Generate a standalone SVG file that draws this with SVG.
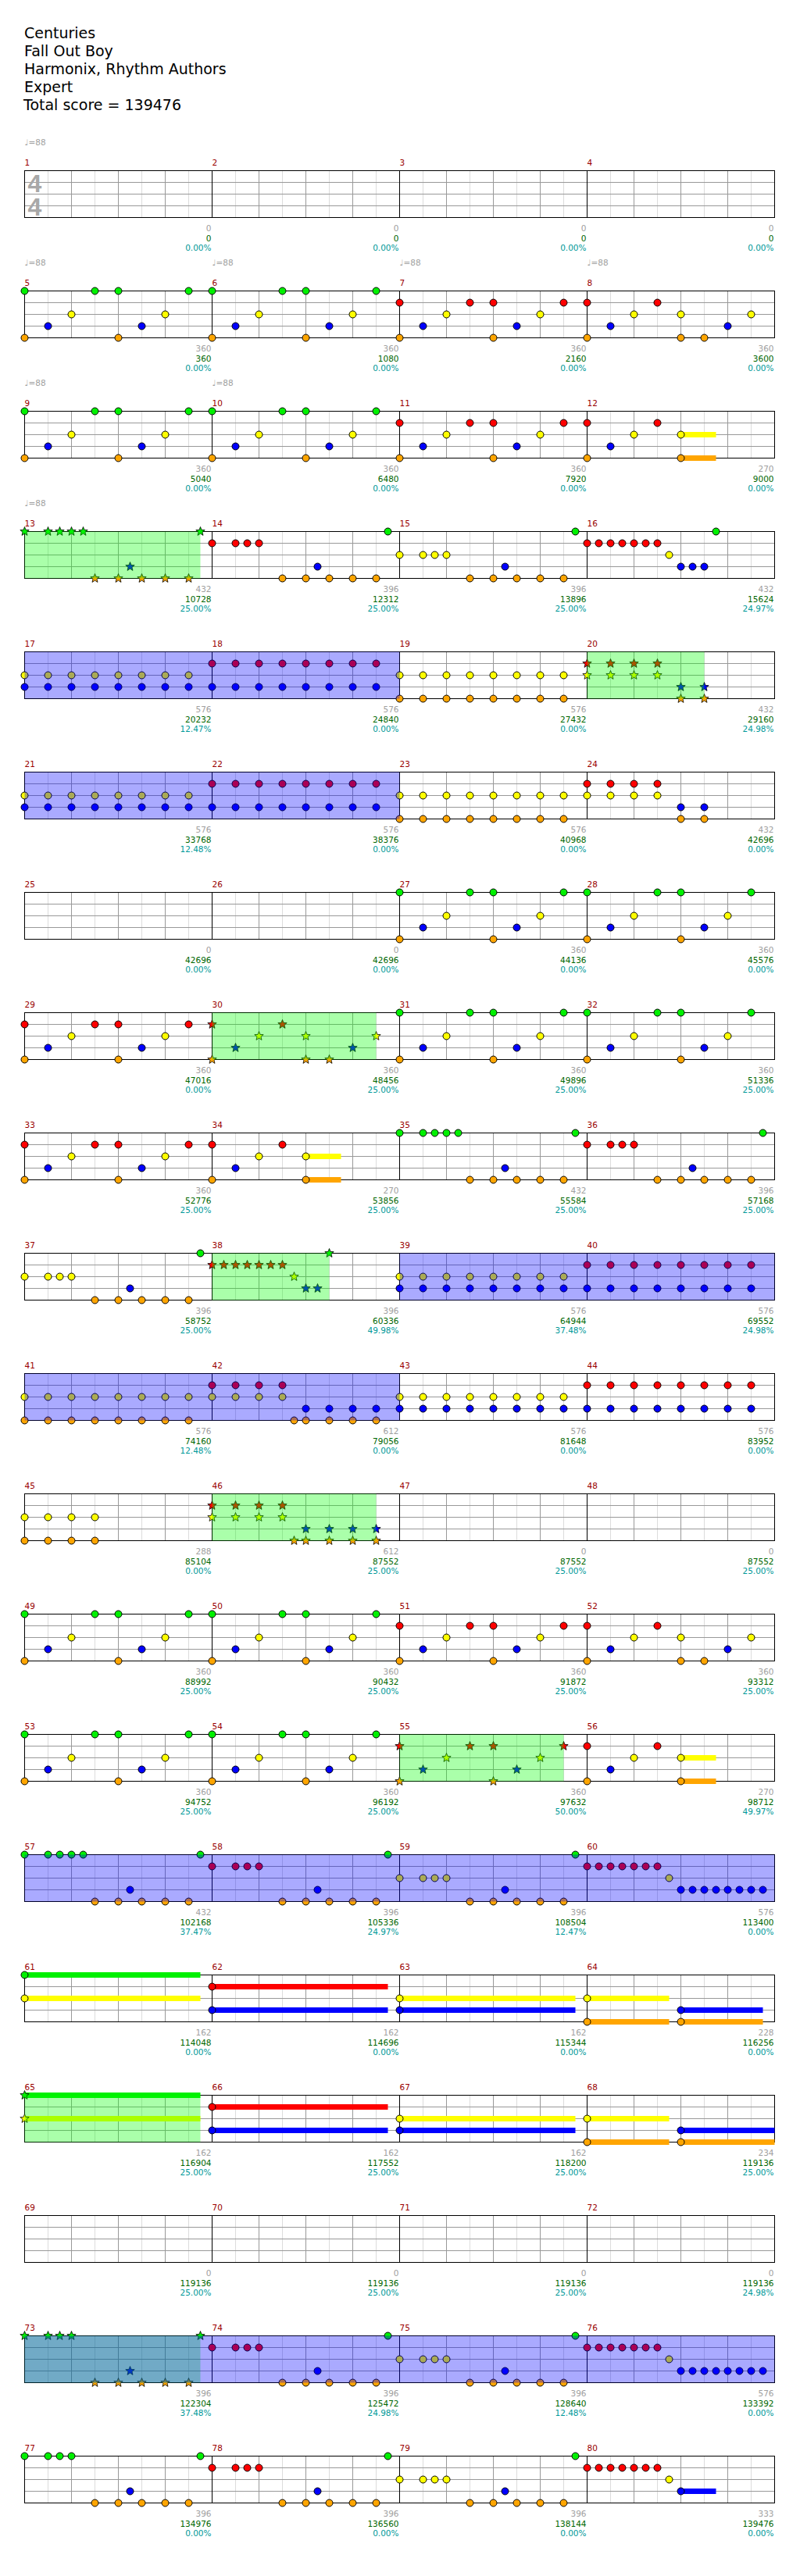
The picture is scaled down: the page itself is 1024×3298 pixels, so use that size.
<svg xmlns="http://www.w3.org/2000/svg" xmlns:xlink="http://www.w3.org/1999/xlink" width="1024" height="3298" viewBox="0 0 1024 3298">
<style>
.t{font-family:"DejaVu Sans",sans-serif;font-size:19px;fill:#000}
.mn,.tp,.s1,.s2,.s3{font-family:"DejaVu Sans",sans-serif;font-size:10.5px}
.mn{fill:#990000}.tp{fill:#a0a0a0}
.s1,.s2,.s3{text-anchor:end}.s1{fill:#a0a0a0}.s2{fill:#006600}.s3{fill:#009999}
.ts{font-family:"Liberation Sans",Arial,sans-serif;font-weight:bold;font-size:32px;fill:#a8a8a8;text-anchor:middle}
.l1{stroke:#dcdcdc;fill:none}.l2{stroke:#999;fill:none}.l3{stroke:#000;fill:none}.bd{fill:none;stroke:#000}
circle{stroke:#000;stroke-width:1}
.st{stroke:#000;stroke-width:.8}
.g{fill:#00f000}.r{fill:#ff0000}.y{fill:#ffff00}.b{fill:#0000ff}.o{fill:#ffa500}
.sp{fill:#00ff00;fill-opacity:.333}.od{fill:#0000ff;fill-opacity:.333}
</style>
<defs>
<g id="staff">
<path class="l1" d="M61,0V60M121,0V60M181,0V60M241,0V60M301,0V60M361,0V60M421,0V60M481,0V60M541,0V60M601,0V60M661,0V60M721,0V60M781,0V60M841,0V60M901,0V60M961,0V60"/>
<path class="l2" d="M91,0V60M151,0V60M211,0V60M331,0V60M391,0V60M451,0V60M571,0V60M631,0V60M691,0V60M811,0V60M871,0V60M931,0V60M31,15H991M31,30H991M31,45H991"/>
<path class="l3" d="M271,0V60M511,0V60M751,0V60"/>
<rect class="bd" x="31" y="0" width="960" height="60"/>
</g>
<path id="st" class="st" d="M0,-6L1.5,-2.1L5.7,-1.9L2.5,0.8L3.5,4.9L0,2.6L-3.5,4.9L-2.5,0.8L-5.7,-1.9L-1.5,-2.1Z"/>
<g id="pA"><circle cx="0" cy="0" r="4.5" class="g"/><circle cx="0" cy="60" r="4.5" class="o"/><circle cx="30" cy="45" r="4.5" class="b"/><circle cx="60" cy="30" r="4.5" class="y"/><circle cx="90" cy="0" r="4.5" class="g"/><circle cx="120" cy="0" r="4.5" class="g"/><circle cx="120" cy="60" r="4.5" class="o"/><circle cx="150" cy="45" r="4.5" class="b"/><circle cx="180" cy="30" r="4.5" class="y"/><circle cx="210" cy="0" r="4.5" class="g"/></g>
<g id="pB"><circle cx="0" cy="15" r="4.5" class="r"/><circle cx="0" cy="60" r="4.5" class="o"/><circle cx="30" cy="45" r="4.5" class="b"/><circle cx="60" cy="30" r="4.5" class="y"/><circle cx="90" cy="15" r="4.5" class="r"/><circle cx="120" cy="15" r="4.5" class="r"/><circle cx="120" cy="60" r="4.5" class="o"/><circle cx="150" cy="45" r="4.5" class="b"/><circle cx="180" cy="30" r="4.5" class="y"/><circle cx="210" cy="15" r="4.5" class="r"/></g>
<g id="pC"><circle cx="0" cy="15" r="4.5" class="r"/><circle cx="0" cy="60" r="4.5" class="o"/><circle cx="30" cy="45" r="4.5" class="b"/><circle cx="60" cy="30" r="4.5" class="y"/><circle cx="90" cy="15" r="4.5" class="r"/><circle cx="120" cy="30" r="4.5" class="y"/><circle cx="120" cy="60" r="4.5" class="o"/><circle cx="150" cy="60" r="4.5" class="o"/><circle cx="180" cy="45" r="4.5" class="b"/><circle cx="210" cy="30" r="4.5" class="y"/></g>
<g id="pC2"><rect x="120" y="26.5" width="45" height="7" class="y"/><rect x="120" y="56.5" width="45" height="7" class="o"/><circle cx="0" cy="15" r="4.5" class="r"/><circle cx="0" cy="60" r="4.5" class="o"/><circle cx="30" cy="45" r="4.5" class="b"/><circle cx="60" cy="30" r="4.5" class="y"/><circle cx="90" cy="15" r="4.5" class="r"/><circle cx="120" cy="30" r="4.5" class="y"/><circle cx="120" cy="60" r="4.5" class="o"/></g>
<g id="pD"><circle cx="0" cy="0" r="4.5" class="g"/><circle cx="30" cy="0" r="4.5" class="g"/><circle cx="45" cy="0" r="4.5" class="g"/><circle cx="60" cy="0" r="4.5" class="g"/><circle cx="75" cy="0" r="4.5" class="g"/><circle cx="90" cy="60" r="4.5" class="o"/><circle cx="120" cy="60" r="4.5" class="o"/><circle cx="135" cy="45" r="4.5" class="b"/><circle cx="150" cy="60" r="4.5" class="o"/><circle cx="180" cy="60" r="4.5" class="o"/><circle cx="210" cy="60" r="4.5" class="o"/><circle cx="225" cy="0" r="4.5" class="g"/></g>
<g id="pD4"><circle cx="0" cy="0" r="4.5" class="g"/><circle cx="30" cy="0" r="4.5" class="g"/><circle cx="45" cy="0" r="4.5" class="g"/><circle cx="60" cy="0" r="4.5" class="g"/><circle cx="90" cy="60" r="4.5" class="o"/><circle cx="120" cy="60" r="4.5" class="o"/><circle cx="135" cy="45" r="4.5" class="b"/><circle cx="150" cy="60" r="4.5" class="o"/><circle cx="180" cy="60" r="4.5" class="o"/><circle cx="210" cy="60" r="4.5" class="o"/><circle cx="225" cy="0" r="4.5" class="g"/></g>
<g id="pE"><circle cx="0" cy="15" r="4.5" class="r"/><circle cx="30" cy="15" r="4.5" class="r"/><circle cx="45" cy="15" r="4.5" class="r"/><circle cx="60" cy="15" r="4.5" class="r"/><circle cx="90" cy="60" r="4.5" class="o"/><circle cx="120" cy="60" r="4.5" class="o"/><circle cx="135" cy="45" r="4.5" class="b"/><circle cx="150" cy="60" r="4.5" class="o"/><circle cx="180" cy="60" r="4.5" class="o"/><circle cx="210" cy="60" r="4.5" class="o"/><circle cx="225" cy="0" r="4.5" class="g"/></g>
<g id="pF"><circle cx="0" cy="30" r="4.5" class="y"/><circle cx="30" cy="30" r="4.5" class="y"/><circle cx="45" cy="30" r="4.5" class="y"/><circle cx="60" cy="30" r="4.5" class="y"/><circle cx="90" cy="60" r="4.5" class="o"/><circle cx="120" cy="60" r="4.5" class="o"/><circle cx="135" cy="45" r="4.5" class="b"/><circle cx="150" cy="60" r="4.5" class="o"/><circle cx="180" cy="60" r="4.5" class="o"/><circle cx="210" cy="60" r="4.5" class="o"/><circle cx="225" cy="0" r="4.5" class="g"/></g>
<g id="pR7"><circle cx="0" cy="15" r="4.5" class="r"/><circle cx="15" cy="15" r="4.5" class="r"/><circle cx="30" cy="15" r="4.5" class="r"/><circle cx="45" cy="15" r="4.5" class="r"/><circle cx="60" cy="15" r="4.5" class="r"/><circle cx="75" cy="15" r="4.5" class="r"/><circle cx="90" cy="15" r="4.5" class="r"/><circle cx="105" cy="30" r="4.5" class="y"/></g>
<g id="pG"><use href="#pR7"/><circle cx="120" cy="45" r="4.5" class="b"/><circle cx="135" cy="45" r="4.5" class="b"/><circle cx="150" cy="45" r="4.5" class="b"/><circle cx="165" cy="0" r="4.5" class="g"/></g>
<g id="pG2"><use href="#pR7"/><circle cx="120" cy="45" r="4.5" class="b"/><circle cx="135" cy="45" r="4.5" class="b"/><circle cx="150" cy="45" r="4.5" class="b"/><circle cx="165" cy="45" r="4.5" class="b"/><circle cx="180" cy="45" r="4.5" class="b"/><circle cx="195" cy="45" r="4.5" class="b"/><circle cx="210" cy="45" r="4.5" class="b"/><circle cx="225" cy="45" r="4.5" class="b"/></g>
<g id="pG3"><rect x="120" y="41.5" width="45" height="7" class="b"/><use href="#pR7"/><circle cx="120" cy="45" r="4.5" class="b"/></g>
<g id="e8y"><circle cx="0" cy="30" r="4.5" class="y"/><circle cx="30" cy="30" r="4.5" class="y"/><circle cx="60" cy="30" r="4.5" class="y"/><circle cx="90" cy="30" r="4.5" class="y"/><circle cx="120" cy="30" r="4.5" class="y"/><circle cx="150" cy="30" r="4.5" class="y"/><circle cx="180" cy="30" r="4.5" class="y"/><circle cx="210" cy="30" r="4.5" class="y"/></g>
<g id="e8r"><circle cx="0" cy="15" r="4.5" class="r"/><circle cx="30" cy="15" r="4.5" class="r"/><circle cx="60" cy="15" r="4.5" class="r"/><circle cx="90" cy="15" r="4.5" class="r"/><circle cx="120" cy="15" r="4.5" class="r"/><circle cx="150" cy="15" r="4.5" class="r"/><circle cx="180" cy="15" r="4.5" class="r"/><circle cx="210" cy="15" r="4.5" class="r"/></g>
<g id="e8b"><circle cx="0" cy="45" r="4.5" class="b"/><circle cx="30" cy="45" r="4.5" class="b"/><circle cx="60" cy="45" r="4.5" class="b"/><circle cx="90" cy="45" r="4.5" class="b"/><circle cx="120" cy="45" r="4.5" class="b"/><circle cx="150" cy="45" r="4.5" class="b"/><circle cx="180" cy="45" r="4.5" class="b"/><circle cx="210" cy="45" r="4.5" class="b"/></g>
<g id="e8o"><circle cx="0" cy="60" r="4.5" class="o"/><circle cx="30" cy="60" r="4.5" class="o"/><circle cx="60" cy="60" r="4.5" class="o"/><circle cx="90" cy="60" r="4.5" class="o"/><circle cx="120" cy="60" r="4.5" class="o"/><circle cx="150" cy="60" r="4.5" class="o"/><circle cx="180" cy="60" r="4.5" class="o"/><circle cx="210" cy="60" r="4.5" class="o"/></g>
<g id="sB"><use href="#st" x="0" y="15" class="r"/><use href="#st" x="0" y="60" class="o"/><use href="#st" x="30" y="45" class="b"/><use href="#st" x="60" y="30" class="y"/><use href="#st" x="90" y="15" class="r"/><use href="#st" x="120" y="15" class="r"/><use href="#st" x="120" y="60" class="o"/><use href="#st" x="150" y="45" class="b"/><use href="#st" x="180" y="30" class="y"/><use href="#st" x="210" y="15" class="r"/></g>
<g id="sC"><use href="#st" x="0" y="15" class="r"/><use href="#st" x="0" y="60" class="o"/><use href="#st" x="30" y="45" class="b"/><use href="#st" x="60" y="30" class="y"/><use href="#st" x="90" y="15" class="r"/><use href="#st" x="120" y="30" class="y"/><use href="#st" x="120" y="60" class="o"/><use href="#st" x="150" y="60" class="o"/><use href="#st" x="180" y="45" class="b"/><use href="#st" x="210" y="30" class="y"/></g>
<g id="sD4"><use href="#st" x="0" y="0" class="g"/><use href="#st" x="30" y="0" class="g"/><use href="#st" x="45" y="0" class="g"/><use href="#st" x="60" y="0" class="g"/><use href="#st" x="90" y="60" class="o"/><use href="#st" x="120" y="60" class="o"/><use href="#st" x="135" y="45" class="b"/><use href="#st" x="150" y="60" class="o"/><use href="#st" x="180" y="60" class="o"/><use href="#st" x="210" y="60" class="o"/><use href="#st" x="225" y="0" class="g"/></g>
</defs>
<rect x="0" y="0" width="1024" height="3298" fill="#fff"/>
<g id="header">
<text class="t" x="31" y="49">Centuries</text>
<text class="t" x="31" y="72">Fall Out Boy</text>
<text class="t" x="31" y="95">Harmonix, Rhythm Authors</text>
<text class="t" x="31" y="118">Expert</text>
<text class="t" x="30" y="141">Total score = 139476</text>
</g>

<g id="row1" transform="translate(0.5,218.5)">
<use href="#staff"/>
<text class="ts" x="44" y="27">4</text><text class="ts" x="44" y="57">4</text>
<text class="tp" x="31" y="-33">♩=88</text>
<g id="m1"><text class="mn" x="31" y="-7">1</text><text class="s1" x="270" y="77">0</text><text class="s2" x="270" y="90">0</text><text class="s3" x="270" y="102.5">0.00%</text></g>
<g id="m2"><text class="mn" x="271" y="-7">2</text><text class="s1" x="510" y="77">0</text><text class="s2" x="510" y="90">0</text><text class="s3" x="510" y="102.5">0.00%</text></g>
<g id="m3"><text class="mn" x="511" y="-7">3</text><text class="s1" x="750" y="77">0</text><text class="s2" x="750" y="90">0</text><text class="s3" x="750" y="102.5">0.00%</text></g>
<g id="m4"><text class="mn" x="751" y="-7">4</text><text class="s1" x="990" y="77">0</text><text class="s2" x="990" y="90">0</text><text class="s3" x="990" y="102.5">0.00%</text></g>
</g>

<g id="row2" transform="translate(0.5,372.5)">
<use href="#staff"/>
<text class="tp" x="31" y="-33">♩=88</text><text class="tp" x="271" y="-33">♩=88</text><text class="tp" x="511" y="-33">♩=88</text><text class="tp" x="751" y="-33">♩=88</text>
<g id="m5"><use href="#pA" x="31"/><text class="mn" x="31" y="-7">5</text><text class="s1" x="270" y="77">360</text><text class="s2" x="270" y="90">360</text><text class="s3" x="270" y="102.5">0.00%</text></g>
<g id="m6"><use href="#pA" x="271"/><text class="mn" x="271" y="-7">6</text><text class="s1" x="510" y="77">360</text><text class="s2" x="510" y="90">1080</text><text class="s3" x="510" y="102.5">0.00%</text></g>
<g id="m7"><use href="#pB" x="511"/><text class="mn" x="511" y="-7">7</text><text class="s1" x="750" y="77">360</text><text class="s2" x="750" y="90">2160</text><text class="s3" x="750" y="102.5">0.00%</text></g>
<g id="m8"><use href="#pC" x="751"/><text class="mn" x="751" y="-7">8</text><text class="s1" x="990" y="77">360</text><text class="s2" x="990" y="90">3600</text><text class="s3" x="990" y="102.5">0.00%</text></g>
</g>

<g id="row3" transform="translate(0.5,526.5)">
<use href="#staff"/>
<text class="tp" x="31" y="-33">♩=88</text><text class="tp" x="271" y="-33">♩=88</text>
<g id="m9"><use href="#pA" x="31"/><text class="mn" x="31" y="-7">9</text><text class="s1" x="270" y="77">360</text><text class="s2" x="270" y="90">5040</text><text class="s3" x="270" y="102.5">0.00%</text></g>
<g id="m10"><use href="#pA" x="271"/><text class="mn" x="271" y="-7">10</text><text class="s1" x="510" y="77">360</text><text class="s2" x="510" y="90">6480</text><text class="s3" x="510" y="102.5">0.00%</text></g>
<g id="m11"><use href="#pB" x="511"/><text class="mn" x="511" y="-7">11</text><text class="s1" x="750" y="77">360</text><text class="s2" x="750" y="90">7920</text><text class="s3" x="750" y="102.5">0.00%</text></g>
<g id="m12"><use href="#pC2" x="751"/><text class="mn" x="751" y="-7">12</text><text class="s1" x="990" y="77">270</text><text class="s2" x="990" y="90">9000</text><text class="s3" x="990" y="102.5">0.00%</text></g>
</g>

<g id="row4" transform="translate(0.5,680.5)">
<use href="#staff"/>
<text class="tp" x="31" y="-33">♩=88</text>
<g id="m13"><use href="#sD4" x="31"/><use href="#st" x="106" y="0" class="g"/><text class="mn" x="31" y="-7">13</text><text class="s1" x="270" y="77">432</text><text class="s2" x="270" y="90">10728</text><text class="s3" x="270" y="102.5">25.00%</text></g>
<g id="m14"><use href="#pE" x="271"/><text class="mn" x="271" y="-7">14</text><text class="s1" x="510" y="77">396</text><text class="s2" x="510" y="90">12312</text><text class="s3" x="510" y="102.5">25.00%</text></g>
<g id="m15"><use href="#pF" x="511"/><text class="mn" x="511" y="-7">15</text><text class="s1" x="750" y="77">396</text><text class="s2" x="750" y="90">13896</text><text class="s3" x="750" y="102.5">25.00%</text></g>
<g id="m16"><use href="#pG" x="751"/><text class="mn" x="751" y="-7">16</text><text class="s1" x="990" y="77">432</text><text class="s2" x="990" y="90">15624</text><text class="s3" x="990" y="102.5">24.97%</text></g>
<g id="ov4"><rect class="sp" x="31" y="0" width="225" height="60"/></g>
</g>

<g id="row5" transform="translate(0.5,834.5)">
<use href="#staff"/>
<g id="m17"><use href="#e8y" x="31"/><use href="#e8b" x="31"/><text class="mn" x="31" y="-7">17</text><text class="s1" x="270" y="77">576</text><text class="s2" x="270" y="90">20232</text><text class="s3" x="270" y="102.5">12.47%</text></g>
<g id="m18"><use href="#e8r" x="271"/><use href="#e8b" x="271"/><text class="mn" x="271" y="-7">18</text><text class="s1" x="510" y="77">576</text><text class="s2" x="510" y="90">24840</text><text class="s3" x="510" y="102.5">0.00%</text></g>
<g id="m19"><use href="#e8y" x="511"/><use href="#e8o" x="511"/><text class="mn" x="511" y="-7">19</text><text class="s1" x="750" y="77">576</text><text class="s2" x="750" y="90">27432</text><text class="s3" x="750" y="102.5">0.00%</text></g>
<g id="m20"><use href="#st" x="751" y="15" class="r"/><use href="#st" x="751" y="30" class="y"/><use href="#st" x="781" y="15" class="r"/><use href="#st" x="781" y="30" class="y"/><use href="#st" x="811" y="15" class="r"/><use href="#st" x="811" y="30" class="y"/><use href="#st" x="841" y="15" class="r"/><use href="#st" x="841" y="30" class="y"/><use href="#st" x="871" y="45" class="b"/><use href="#st" x="871" y="60" class="o"/><use href="#st" x="901" y="45" class="b"/><use href="#st" x="901" y="60" class="o"/><text class="mn" x="751" y="-7">20</text><text class="s1" x="990" y="77">432</text><text class="s2" x="990" y="90">29160</text><text class="s3" x="990" y="102.5">24.98%</text></g>
<g id="ov5"><rect class="sp" x="751" y="0" width="150" height="60"/><rect class="od" x="31" y="0" width="480" height="60"/></g>
</g>

<g id="row6" transform="translate(0.5,988.5)">
<use href="#staff"/>
<g id="m21"><use href="#e8y" x="31"/><use href="#e8b" x="31"/><text class="mn" x="31" y="-7">21</text><text class="s1" x="270" y="77">576</text><text class="s2" x="270" y="90">33768</text><text class="s3" x="270" y="102.5">12.48%</text></g>
<g id="m22"><use href="#e8r" x="271"/><use href="#e8b" x="271"/><text class="mn" x="271" y="-7">22</text><text class="s1" x="510" y="77">576</text><text class="s2" x="510" y="90">38376</text><text class="s3" x="510" y="102.5">0.00%</text></g>
<g id="m23"><use href="#e8y" x="511"/><use href="#e8o" x="511"/><text class="mn" x="511" y="-7">23</text><text class="s1" x="750" y="77">576</text><text class="s2" x="750" y="90">40968</text><text class="s3" x="750" y="102.5">0.00%</text></g>
<g id="m24"><circle cx="751" cy="15" r="4.5" class="r"/><circle cx="751" cy="30" r="4.5" class="y"/><circle cx="781" cy="15" r="4.5" class="r"/><circle cx="781" cy="30" r="4.5" class="y"/><circle cx="811" cy="15" r="4.5" class="r"/><circle cx="811" cy="30" r="4.5" class="y"/><circle cx="841" cy="15" r="4.5" class="r"/><circle cx="841" cy="30" r="4.5" class="y"/><circle cx="871" cy="45" r="4.5" class="b"/><circle cx="871" cy="60" r="4.5" class="o"/><circle cx="901" cy="45" r="4.5" class="b"/><circle cx="901" cy="60" r="4.5" class="o"/><text class="mn" x="751" y="-7">24</text><text class="s1" x="990" y="77">432</text><text class="s2" x="990" y="90">42696</text><text class="s3" x="990" y="102.5">0.00%</text></g>
<g id="ov6"><rect class="od" x="31" y="0" width="480" height="60"/></g>
</g>

<g id="row7" transform="translate(0.5,1142.5)">
<use href="#staff"/>
<g id="m25"><text class="mn" x="31" y="-7">25</text><text class="s1" x="270" y="77">0</text><text class="s2" x="270" y="90">42696</text><text class="s3" x="270" y="102.5">0.00%</text></g>
<g id="m26"><text class="mn" x="271" y="-7">26</text><text class="s1" x="510" y="77">0</text><text class="s2" x="510" y="90">42696</text><text class="s3" x="510" y="102.5">0.00%</text></g>
<g id="m27"><use href="#pA" x="511"/><text class="mn" x="511" y="-7">27</text><text class="s1" x="750" y="77">360</text><text class="s2" x="750" y="90">44136</text><text class="s3" x="750" y="102.5">0.00%</text></g>
<g id="m28"><use href="#pA" x="751"/><text class="mn" x="751" y="-7">28</text><text class="s1" x="990" y="77">360</text><text class="s2" x="990" y="90">45576</text><text class="s3" x="990" y="102.5">0.00%</text></g>
</g>

<g id="row8" transform="translate(0.5,1296.5)">
<use href="#staff"/>
<g id="m29"><use href="#pB" x="31"/><text class="mn" x="31" y="-7">29</text><text class="s1" x="270" y="77">360</text><text class="s2" x="270" y="90">47016</text><text class="s3" x="270" y="102.5">0.00%</text></g>
<g id="m30"><use href="#sC" x="271"/><text class="mn" x="271" y="-7">30</text><text class="s1" x="510" y="77">360</text><text class="s2" x="510" y="90">48456</text><text class="s3" x="510" y="102.5">25.00%</text></g>
<g id="m31"><use href="#pA" x="511"/><text class="mn" x="511" y="-7">31</text><text class="s1" x="750" y="77">360</text><text class="s2" x="750" y="90">49896</text><text class="s3" x="750" y="102.5">25.00%</text></g>
<g id="m32"><use href="#pA" x="751"/><text class="mn" x="751" y="-7">32</text><text class="s1" x="990" y="77">360</text><text class="s2" x="990" y="90">51336</text><text class="s3" x="990" y="102.5">25.00%</text></g>
<g id="ov8"><rect class="sp" x="271" y="0" width="210" height="60"/></g>
</g>

<g id="row9" transform="translate(0.5,1450.5)">
<use href="#staff"/>
<g id="m33"><use href="#pB" x="31"/><text class="mn" x="31" y="-7">33</text><text class="s1" x="270" y="77">360</text><text class="s2" x="270" y="90">52776</text><text class="s3" x="270" y="102.5">25.00%</text></g>
<g id="m34"><use href="#pC2" x="271"/><text class="mn" x="271" y="-7">34</text><text class="s1" x="510" y="77">270</text><text class="s2" x="510" y="90">53856</text><text class="s3" x="510" y="102.5">25.00%</text></g>
<g id="m35"><use href="#pD" x="511"/><text class="mn" x="511" y="-7">35</text><text class="s1" x="750" y="77">432</text><text class="s2" x="750" y="90">55584</text><text class="s3" x="750" y="102.5">25.00%</text></g>
<g id="m36"><use href="#pE" x="751"/><text class="mn" x="751" y="-7">36</text><text class="s1" x="990" y="77">396</text><text class="s2" x="990" y="90">57168</text><text class="s3" x="990" y="102.5">25.00%</text></g>
</g>

<g id="row10" transform="translate(0.5,1604.5)">
<use href="#staff"/>
<g id="m37"><use href="#pF" x="31"/><text class="mn" x="31" y="-7">37</text><text class="s1" x="270" y="77">396</text><text class="s2" x="270" y="90">58752</text><text class="s3" x="270" y="102.5">25.00%</text></g>
<g id="m38"><use href="#st" x="271" y="15" class="r"/><use href="#st" x="286" y="15" class="r"/><use href="#st" x="301" y="15" class="r"/><use href="#st" x="316" y="15" class="r"/><use href="#st" x="331" y="15" class="r"/><use href="#st" x="346" y="15" class="r"/><use href="#st" x="361" y="15" class="r"/><use href="#st" x="376" y="30" class="y"/><use href="#st" x="391" y="45" class="b"/><use href="#st" x="406" y="45" class="b"/><use href="#st" x="421" y="0" class="g"/><text class="mn" x="271" y="-7">38</text><text class="s1" x="510" y="77">396</text><text class="s2" x="510" y="90">60336</text><text class="s3" x="510" y="102.5">49.98%</text></g>
<g id="m39"><use href="#e8y" x="511"/><use href="#e8b" x="511"/><text class="mn" x="511" y="-7">39</text><text class="s1" x="750" y="77">576</text><text class="s2" x="750" y="90">64944</text><text class="s3" x="750" y="102.5">37.48%</text></g>
<g id="m40"><use href="#e8r" x="751"/><use href="#e8b" x="751"/><text class="mn" x="751" y="-7">40</text><text class="s1" x="990" y="77">576</text><text class="s2" x="990" y="90">69552</text><text class="s3" x="990" y="102.5">24.98%</text></g>
<g id="ov10"><rect class="sp" x="271" y="0" width="150" height="60"/><rect class="od" x="511" y="0" width="480" height="60"/></g>
</g>

<g id="row11" transform="translate(0.5,1758.5)">
<use href="#staff"/>
<g id="m41"><use href="#e8y" x="31"/><use href="#e8o" x="31"/><text class="mn" x="31" y="-7">41</text><text class="s1" x="270" y="77">576</text><text class="s2" x="270" y="90">74160</text><text class="s3" x="270" y="102.5">12.48%</text></g>
<g id="m42"><circle cx="271" cy="15" r="4.5" class="r"/><circle cx="271" cy="30" r="4.5" class="y"/><circle cx="301" cy="15" r="4.5" class="r"/><circle cx="301" cy="30" r="4.5" class="y"/><circle cx="331" cy="15" r="4.5" class="r"/><circle cx="331" cy="30" r="4.5" class="y"/><circle cx="361" cy="15" r="4.5" class="r"/><circle cx="361" cy="30" r="4.5" class="y"/><circle cx="376" cy="60" r="4.5" class="o"/><circle cx="391" cy="45" r="4.5" class="b"/><circle cx="391" cy="60" r="4.5" class="o"/><circle cx="421" cy="45" r="4.5" class="b"/><circle cx="421" cy="60" r="4.5" class="o"/><circle cx="451" cy="45" r="4.5" class="b"/><circle cx="451" cy="60" r="4.5" class="o"/><circle cx="481" cy="45" r="4.5" class="b"/><circle cx="481" cy="60" r="4.5" class="o"/><text class="mn" x="271" y="-7">42</text><text class="s1" x="510" y="77">612</text><text class="s2" x="510" y="90">79056</text><text class="s3" x="510" y="102.5">0.00%</text></g>
<g id="m43"><use href="#e8y" x="511"/><use href="#e8b" x="511"/><text class="mn" x="511" y="-7">43</text><text class="s1" x="750" y="77">576</text><text class="s2" x="750" y="90">81648</text><text class="s3" x="750" y="102.5">0.00%</text></g>
<g id="m44"><use href="#e8r" x="751"/><use href="#e8b" x="751"/><text class="mn" x="751" y="-7">44</text><text class="s1" x="990" y="77">576</text><text class="s2" x="990" y="90">83952</text><text class="s3" x="990" y="102.5">0.00%</text></g>
<g id="ov11"><rect class="od" x="31" y="0" width="480" height="60"/></g>
</g>

<g id="row12" transform="translate(0.5,1912.5)">
<use href="#staff"/>
<g id="m45"><circle cx="31" cy="30" r="4.5" class="y"/><circle cx="31" cy="60" r="4.5" class="o"/><circle cx="61" cy="30" r="4.5" class="y"/><circle cx="61" cy="60" r="4.5" class="o"/><circle cx="91" cy="30" r="4.5" class="y"/><circle cx="91" cy="60" r="4.5" class="o"/><circle cx="121" cy="30" r="4.5" class="y"/><circle cx="121" cy="60" r="4.5" class="o"/><text class="mn" x="31" y="-7">45</text><text class="s1" x="270" y="77">288</text><text class="s2" x="270" y="90">85104</text><text class="s3" x="270" y="102.5">0.00%</text></g>
<g id="m46"><use href="#st" x="271" y="15" class="r"/><use href="#st" x="271" y="30" class="y"/><use href="#st" x="301" y="15" class="r"/><use href="#st" x="301" y="30" class="y"/><use href="#st" x="331" y="15" class="r"/><use href="#st" x="331" y="30" class="y"/><use href="#st" x="361" y="15" class="r"/><use href="#st" x="361" y="30" class="y"/><use href="#st" x="376" y="60" class="o"/><use href="#st" x="391" y="45" class="b"/><use href="#st" x="391" y="60" class="o"/><use href="#st" x="421" y="45" class="b"/><use href="#st" x="421" y="60" class="o"/><use href="#st" x="451" y="45" class="b"/><use href="#st" x="451" y="60" class="o"/><use href="#st" x="481" y="45" class="b"/><use href="#st" x="481" y="60" class="o"/><text class="mn" x="271" y="-7">46</text><text class="s1" x="510" y="77">612</text><text class="s2" x="510" y="90">87552</text><text class="s3" x="510" y="102.5">25.00%</text></g>
<g id="m47"><text class="mn" x="511" y="-7">47</text><text class="s1" x="750" y="77">0</text><text class="s2" x="750" y="90">87552</text><text class="s3" x="750" y="102.5">25.00%</text></g>
<g id="m48"><text class="mn" x="751" y="-7">48</text><text class="s1" x="990" y="77">0</text><text class="s2" x="990" y="90">87552</text><text class="s3" x="990" y="102.5">25.00%</text></g>
<g id="ov12"><rect class="sp" x="271" y="0" width="210" height="60"/></g>
</g>

<g id="row13" transform="translate(0.5,2066.5)">
<use href="#staff"/>
<g id="m49"><use href="#pA" x="31"/><text class="mn" x="31" y="-7">49</text><text class="s1" x="270" y="77">360</text><text class="s2" x="270" y="90">88992</text><text class="s3" x="270" y="102.5">25.00%</text></g>
<g id="m50"><use href="#pA" x="271"/><text class="mn" x="271" y="-7">50</text><text class="s1" x="510" y="77">360</text><text class="s2" x="510" y="90">90432</text><text class="s3" x="510" y="102.5">25.00%</text></g>
<g id="m51"><use href="#pB" x="511"/><text class="mn" x="511" y="-7">51</text><text class="s1" x="750" y="77">360</text><text class="s2" x="750" y="90">91872</text><text class="s3" x="750" y="102.5">25.00%</text></g>
<g id="m52"><use href="#pC" x="751"/><text class="mn" x="751" y="-7">52</text><text class="s1" x="990" y="77">360</text><text class="s2" x="990" y="90">93312</text><text class="s3" x="990" y="102.5">25.00%</text></g>
</g>

<g id="row14" transform="translate(0.5,2220.5)">
<use href="#staff"/>
<g id="m53"><use href="#pA" x="31"/><text class="mn" x="31" y="-7">53</text><text class="s1" x="270" y="77">360</text><text class="s2" x="270" y="90">94752</text><text class="s3" x="270" y="102.5">25.00%</text></g>
<g id="m54"><use href="#pA" x="271"/><text class="mn" x="271" y="-7">54</text><text class="s1" x="510" y="77">360</text><text class="s2" x="510" y="90">96192</text><text class="s3" x="510" y="102.5">25.00%</text></g>
<g id="m55"><use href="#sB" x="511"/><text class="mn" x="511" y="-7">55</text><text class="s1" x="750" y="77">360</text><text class="s2" x="750" y="90">97632</text><text class="s3" x="750" y="102.5">50.00%</text></g>
<g id="m56"><use href="#pC2" x="751"/><text class="mn" x="751" y="-7">56</text><text class="s1" x="990" y="77">270</text><text class="s2" x="990" y="90">98712</text><text class="s3" x="990" y="102.5">49.97%</text></g>
<g id="ov14"><rect class="sp" x="511" y="0" width="210" height="60"/></g>
</g>

<g id="row15" transform="translate(0.5,2374.5)">
<use href="#staff"/>
<g id="m57"><use href="#pD" x="31"/><text class="mn" x="31" y="-7">57</text><text class="s1" x="270" y="77">432</text><text class="s2" x="270" y="90">102168</text><text class="s3" x="270" y="102.5">37.47%</text></g>
<g id="m58"><use href="#pE" x="271"/><text class="mn" x="271" y="-7">58</text><text class="s1" x="510" y="77">396</text><text class="s2" x="510" y="90">105336</text><text class="s3" x="510" y="102.5">24.97%</text></g>
<g id="m59"><use href="#pF" x="511"/><text class="mn" x="511" y="-7">59</text><text class="s1" x="750" y="77">396</text><text class="s2" x="750" y="90">108504</text><text class="s3" x="750" y="102.5">12.47%</text></g>
<g id="m60"><use href="#pG2" x="751"/><text class="mn" x="751" y="-7">60</text><text class="s1" x="990" y="77">576</text><text class="s2" x="990" y="90">113400</text><text class="s3" x="990" y="102.5">0.00%</text></g>
<g id="ov15"><rect class="od" x="31" y="0" width="960" height="60"/></g>
</g>

<g id="row16" transform="translate(0.5,2528.5)">
<use href="#staff"/>
<g id="m61"><rect x="31" y="-3.5" width="225" height="7" class="g"/><rect x="31" y="26.5" width="225" height="7" class="y"/><circle cx="31" cy="0" r="4.5" class="g"/><circle cx="31" cy="30" r="4.5" class="y"/><text class="mn" x="31" y="-7">61</text><text class="s1" x="270" y="77">162</text><text class="s2" x="270" y="90">114048</text><text class="s3" x="270" y="102.5">0.00%</text></g>
<g id="m62"><rect x="271" y="11.5" width="225" height="7" class="r"/><rect x="271" y="41.5" width="225" height="7" class="b"/><circle cx="271" cy="15" r="4.5" class="r"/><circle cx="271" cy="45" r="4.5" class="b"/><text class="mn" x="271" y="-7">62</text><text class="s1" x="510" y="77">162</text><text class="s2" x="510" y="90">114696</text><text class="s3" x="510" y="102.5">0.00%</text></g>
<g id="m63"><rect x="511" y="26.5" width="225" height="7" class="y"/><rect x="511" y="41.5" width="225" height="7" class="b"/><circle cx="511" cy="30" r="4.5" class="y"/><circle cx="511" cy="45" r="4.5" class="b"/><text class="mn" x="511" y="-7">63</text><text class="s1" x="750" y="77">162</text><text class="s2" x="750" y="90">115344</text><text class="s3" x="750" y="102.5">0.00%</text></g>
<g id="m64"><rect x="751" y="26.5" width="105" height="7" class="y"/><rect x="751" y="56.5" width="105" height="7" class="o"/><rect x="871" y="41.5" width="105" height="7" class="b"/><rect x="871" y="56.5" width="105" height="7" class="o"/><circle cx="751" cy="30" r="4.5" class="y"/><circle cx="751" cy="60" r="4.5" class="o"/><circle cx="871" cy="45" r="4.5" class="b"/><circle cx="871" cy="60" r="4.5" class="o"/><text class="mn" x="751" y="-7">64</text><text class="s1" x="990" y="77">228</text><text class="s2" x="990" y="90">116256</text><text class="s3" x="990" y="102.5">0.00%</text></g>
</g>

<g id="row17" transform="translate(0.5,2682.5)">
<use href="#staff"/>
<g id="m65"><rect x="31" y="-3.5" width="225" height="7" class="g"/><rect x="31" y="26.5" width="225" height="7" class="y"/><use href="#st" x="31" y="0" class="g"/><use href="#st" x="31" y="30" class="y"/><text class="mn" x="31" y="-7">65</text><text class="s1" x="270" y="77">162</text><text class="s2" x="270" y="90">116904</text><text class="s3" x="270" y="102.5">25.00%</text></g>
<g id="m66"><rect x="271" y="11.5" width="225" height="7" class="r"/><rect x="271" y="41.5" width="225" height="7" class="b"/><circle cx="271" cy="15" r="4.5" class="r"/><circle cx="271" cy="45" r="4.5" class="b"/><text class="mn" x="271" y="-7">66</text><text class="s1" x="510" y="77">162</text><text class="s2" x="510" y="90">117552</text><text class="s3" x="510" y="102.5">25.00%</text></g>
<g id="m67"><rect x="511" y="26.5" width="225" height="7" class="y"/><rect x="511" y="41.5" width="225" height="7" class="b"/><circle cx="511" cy="30" r="4.5" class="y"/><circle cx="511" cy="45" r="4.5" class="b"/><text class="mn" x="511" y="-7">67</text><text class="s1" x="750" y="77">162</text><text class="s2" x="750" y="90">118200</text><text class="s3" x="750" y="102.5">25.00%</text></g>
<g id="m68"><rect x="751" y="26.5" width="105" height="7" class="y"/><rect x="751" y="56.5" width="105" height="7" class="o"/><rect x="871" y="41.5" width="120" height="7" class="b"/><rect x="871" y="56.5" width="120" height="7" class="o"/><circle cx="751" cy="30" r="4.5" class="y"/><circle cx="751" cy="60" r="4.5" class="o"/><circle cx="871" cy="45" r="4.5" class="b"/><circle cx="871" cy="60" r="4.5" class="o"/><text class="mn" x="751" y="-7">68</text><text class="s1" x="990" y="77">234</text><text class="s2" x="990" y="90">119136</text><text class="s3" x="990" y="102.5">25.00%</text></g>
<g id="ov17"><rect class="sp" x="31" y="0" width="225" height="60"/></g>
</g>

<g id="row18" transform="translate(0.5,2836.5)">
<use href="#staff"/>
<g id="m69"><text class="mn" x="31" y="-7">69</text><text class="s1" x="270" y="77">0</text><text class="s2" x="270" y="90">119136</text><text class="s3" x="270" y="102.5">25.00%</text></g>
<g id="m70"><text class="mn" x="271" y="-7">70</text><text class="s1" x="510" y="77">0</text><text class="s2" x="510" y="90">119136</text><text class="s3" x="510" y="102.5">25.00%</text></g>
<g id="m71"><text class="mn" x="511" y="-7">71</text><text class="s1" x="750" y="77">0</text><text class="s2" x="750" y="90">119136</text><text class="s3" x="750" y="102.5">25.00%</text></g>
<g id="m72"><text class="mn" x="751" y="-7">72</text><text class="s1" x="990" y="77">0</text><text class="s2" x="990" y="90">119136</text><text class="s3" x="990" y="102.5">24.98%</text></g>
</g>

<g id="row19" transform="translate(0.5,2990.5)">
<use href="#staff"/>
<g id="m73"><use href="#sD4" x="31"/><text class="mn" x="31" y="-7">73</text><text class="s1" x="270" y="77">396</text><text class="s2" x="270" y="90">122304</text><text class="s3" x="270" y="102.5">37.48%</text></g>
<g id="m74"><use href="#pE" x="271"/><text class="mn" x="271" y="-7">74</text><text class="s1" x="510" y="77">396</text><text class="s2" x="510" y="90">125472</text><text class="s3" x="510" y="102.5">24.98%</text></g>
<g id="m75"><use href="#pF" x="511"/><text class="mn" x="511" y="-7">75</text><text class="s1" x="750" y="77">396</text><text class="s2" x="750" y="90">128640</text><text class="s3" x="750" y="102.5">12.48%</text></g>
<g id="m76"><use href="#pG2" x="751"/><text class="mn" x="751" y="-7">76</text><text class="s1" x="990" y="77">576</text><text class="s2" x="990" y="90">133392</text><text class="s3" x="990" y="102.5">0.00%</text></g>
<g id="ov19"><rect class="sp" x="31" y="0" width="225" height="60"/><rect class="od" x="31" y="0" width="960" height="60"/></g>
</g>

<g id="row20" transform="translate(0.5,3144.5)">
<use href="#staff"/>
<g id="m77"><use href="#pD4" x="31"/><text class="mn" x="31" y="-7">77</text><text class="s1" x="270" y="77">396</text><text class="s2" x="270" y="90">134976</text><text class="s3" x="270" y="102.5">0.00%</text></g>
<g id="m78"><use href="#pE" x="271"/><text class="mn" x="271" y="-7">78</text><text class="s1" x="510" y="77">396</text><text class="s2" x="510" y="90">136560</text><text class="s3" x="510" y="102.5">0.00%</text></g>
<g id="m79"><use href="#pF" x="511"/><text class="mn" x="511" y="-7">79</text><text class="s1" x="750" y="77">396</text><text class="s2" x="750" y="90">138144</text><text class="s3" x="750" y="102.5">0.00%</text></g>
<g id="m80"><use href="#pG3" x="751"/><text class="mn" x="751" y="-7">80</text><text class="s1" x="990" y="77">333</text><text class="s2" x="990" y="90">139476</text><text class="s3" x="990" y="102.5">0.00%</text></g>
</g>
<g id="connectors"/>
</svg>
